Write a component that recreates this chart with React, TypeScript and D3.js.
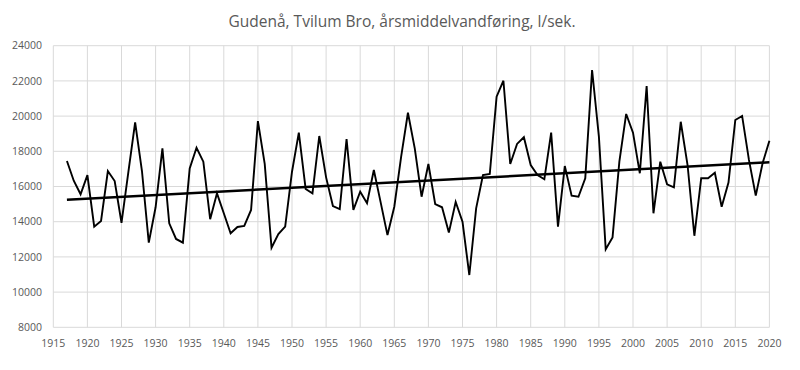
import React from "react"
import * as d3 from "d3"

// årsmiddelvandføring, l/sek.
const years: number[] = d3.range(1917, 2021)
const flow: number[] = [
  17450, 16330, 15560, 16650, 13720, 14040, 16880, 16310, 13940, 16800, // 1917-1926
  19650, 16880, 12810, 14820, 18170, 13910, 13020, 12810, 17030, 18200, // 1927-1936
  17410, 14140, 15610, 14480, 13340, 13700, 13760, 14670, 19720, 17280, // 1937-1946
  12520, 13300, 13720, 16840, 19060, 15860, 15610, 18870, 16520, 14890, // 1947-1956
  14720, 18700, 14670, 15700, 15050, 16940, 15100, 13240, 14850, 17690, // 1957-1966
  20190, 18170, 15420, 17280, 15000, 14820, 13380, 15120, 14000, 10970, // 1967-1976
  14760, 16650, 16710, 21100, 22010, 17280, 18420, 18800, 17220, 16650, // 1977-1986
  16410, 19060, 13720, 17160, 15480, 15420, 16470, 22620, 18830, 12430, // 1987-1996
  13110, 17410, 20120, 19060, 16750, 21710, 14480, 17410, 16120, 15950, // 1997-2006
  19680, 17220, 13200, 16470, 16470, 16780, 14850, 16220, 19780, 20010, // 2007-2016
  17510, 15480, 17320, 18600, // 2017-2020
]
const xTicks: number[] = d3.range(1915, 2021, 5)
const yTicks: number[] = d3.range(8000, 24001, 2000)
const title = "Gudenå, Tvilum Bro, årsmiddelvandføring, l/sek."

const W = 800
const H = 370
const margin = { top: 45.7, right: 30.6, bottom: 42.7, left: 53.3 }

const App: React.FC = () => {
  const x = d3.scaleLinear().domain([1915, 2020]).range([margin.left, W - margin.right])
  const y = d3.scaleLinear().domain([8000, 24000]).range([H - margin.bottom, margin.top])

  const pts = years.map((yr, i) => [yr, flow[i]] as [number, number])

  // linear trendline (least squares)
  const mx = d3.mean(years) as number
  const my = d3.mean(flow) as number
  const slope = d3.sum(pts, p => (p[0] - mx) * (p[1] - my)) / d3.sum(years, v => (v - mx) ** 2)
  const icpt = my - slope * mx
  const trend = (t: number) => icpt + slope * t
  const y0 = years[0]
  const y1 = years[years.length - 1]

  const line = d3.line<[number, number]>()
    .x(d => x(d[0]))
    .y(d => y(d[1]))

  const font = "'Open Sans', 'Liberation Sans', sans-serif"
  const grid = "#d9d9d9"
  const txt = "#595959"

  return (
    <svg width={W} height={H} style={{ position: "absolute", left: 0, top: 0, background: "#fff" }}>
      <text x={402} y={27} textAnchor="middle" fontFamily={font} fontSize={15.5} fill={txt}>{title}</text>

      {yTicks.map(t => (
        <g key={"y" + t}>
          <line x1={margin.left} x2={W - margin.right} y1={y(t)} y2={y(t)} stroke={grid} strokeWidth={1} />
          <text x={42} y={y(t)} dy="0.35em" textAnchor="end" fontFamily={font} fontSize={10.5} fill={txt}>{t}</text>
        </g>
      ))}
      {xTicks.map(t => (
        <g key={"x" + t}>
          <line x1={x(t)} x2={x(t)} y1={margin.top} y2={H - margin.bottom} stroke={grid} strokeWidth={1} />
          <text x={x(t)} y={H - margin.bottom + 20} textAnchor="middle" fontFamily={font} fontSize={10.5} fill={txt}>{t}</text>
        </g>
      ))}

      <path d={line(pts) || ""} fill="none" stroke="#000" strokeWidth={1.9} strokeLinejoin="miter" />
      <line x1={x(y0)} y1={y(trend(y0))} x2={x(y1)} y2={y(trend(y1))} stroke="#000" strokeWidth={2.5} />
    </svg>
  )
}

export default App
